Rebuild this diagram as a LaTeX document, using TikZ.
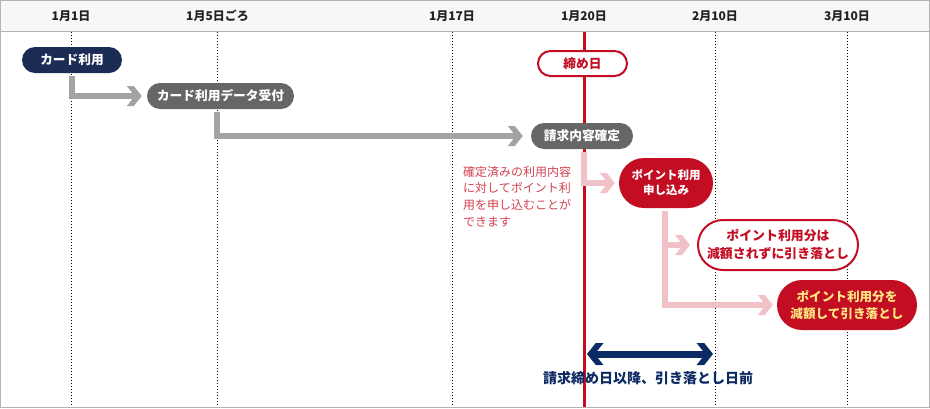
\documentclass[tikz,border=0pt]{standalone}
\usepackage{fontspec}
\setmainfont{Noto Sans CJK JP}
\definecolor{navyn}{HTML}{1B2C55}
\definecolor{grayn}{HTML}{666666}
\definecolor{grayarrow}{HTML}{A3A3A3}
\definecolor{redc}{HTML}{C30D23}
\definecolor{pinkc}{HTML}{F0C2C8}
\definecolor{notec}{HTML}{D2414F}
\definecolor{yellowt}{HTML}{FFE680}
\definecolor{navya}{HTML}{0C2A63}
\definecolor{framec}{HTML}{B4B4B4}
\definecolor{headc}{HTML}{F7F7F7}
\definecolor{textc}{HTML}{222222}
\tikzset{
  pill/.style={rounded corners=#1, inner sep=0pt, align=center, font=\bfseries\fontsize{12.7}{15}\selectfont},
  filledpill/.style 2 args={pill=#1, fill=#2, text=white},
  datelabel/.style={font=\bfseries\fontsize{12}{14}\selectfont, text=textc, inner sep=0pt},
  vguide/.style={line width=1pt, dash pattern=on 1pt off 2pt, black},
  garrow/.style={line width=6pt, grayarrow},
  parrow/.style={line width=6pt, pinkc},
  chev/.pic={\fill (0,0) -- (-8,-10) -- (-15,-10) -- (-7,0) -- (-15,10) -- (-8,10) -- cycle;}
}
\begin{document}
\begin{tikzpicture}[x=1pt,y=-1pt]
\useasboundingbox (0,0) rectangle (930,408);
% header
\fill[headc] (0,0) rectangle (930,31);
\draw[framec, line width=1pt] (0,31.5) -- (930,31.5);
% guides
\foreach \gx in {71.5,217.5,452.5,715.5,847.5} \draw[vguide] (\gx,32) -- (\gx,408);
\draw[redc, line width=3pt] (584.5,32) -- (584.5,408);
% date labels
\node[datelabel] (d1) at (71,16) {1月1日};
\node[datelabel] (d2) at (217.5,16) {1月5日ごろ};
\node[datelabel] (d3) at (452,16) {1月17日};
\node[datelabel] (d4) at (584,16) {1月20日};
\node[datelabel] (d5) at (715,16) {2月10日};
\node[datelabel] (d6) at (847,16) {3月10日};
% frame
\draw[framec, line width=1pt] (0.5,0.5) rectangle (929.5,407.5);
% nodes
\node[filledpill={13pt}{navyn}, minimum width=100pt, minimum height=26pt] (card) at (72,60) {カード利用};
\node[filledpill={13pt}{grayn}, minimum width=147pt, minimum height=26pt] (recv) at (220.5,96) {カード利用データ受付};
\node[filledpill={13pt}{grayn}, minimum width=102pt, minimum height=26pt] (kakutei) at (582,136) {請求内容確定};
\node[pill={12.5pt}, draw=redc, line width=2pt, fill=white, text=redc, minimum width=89pt, minimum height=25pt] (shime) at (582.5,63.5) {締め日};
\node[filledpill={25pt}{redc}, minimum width=94pt, minimum height=50pt, font=\bfseries\fontsize{11.5}{15}\selectfont] (moushi) at (666,183) {ポイント利用\\申し込み};
\node[pill={25pt}, draw=redc, line width=2pt, fill=white, text=redc, minimum width=160pt, minimum height=50pt, font=\bfseries\fontsize{12.9}{18}\selectfont] (notcut) at (778,245) {ポイント利用分は\\減額されずに引き落とし};
\node[filledpill={25pt}{redc}, text=yellowt, minimum width=140pt, minimum height=50pt, font=\bfseries\fontsize{12.6}{17}\selectfont] (cut) at (847,305) {ポイント利用分を\\減額して引き落とし};
% note
\node[anchor=north west, inner sep=0pt, align=left, text=notec, font=\fontsize{12}{16.7}\selectfont] (note) at (463,166) {確定済みの利用内容\\に対してポイント利\\用を申し込むことが\\できます};
% gray connectors
\draw[garrow] ([yshift=-3pt]card.south) |- ([xshift=-12pt]recv.west);
\pic[color=grayarrow] at ([xshift=-5pt]recv.west) {chev};
\draw[garrow] ([xshift=-3.5pt,yshift=-3pt]recv.south) |- ([xshift=-15pt]kakutei.west);
\pic[color=grayarrow] at ([xshift=-8pt]kakutei.west) {chev};
% pink connectors
\draw[parrow] ([xshift=2pt,yshift=-3pt]kakutei.south) |- ([xshift=-11pt]moushi.west);
\pic[color=pinkc] at ([xshift=-4pt]moushi.west) {chev};
\draw[parrow] ([xshift=-1pt,yshift=-3pt]moushi.south) |- ([xshift=-11pt]cut.west);
\pic[color=pinkc] at ([xshift=-4pt]cut.west) {chev};
\draw[parrow] ([xshift=-1pt]moushi.south |- notcut.west) -- ([xshift=-14pt]notcut.west);
\pic[color=pinkc] at ([xshift=-7pt]notcut.west) {chev};
% period arrow
\coordinate (pl) at (587,354);
\coordinate (pr) at (713,354);
\draw[navya, line width=7pt] ([xshift=8pt]pl) -- ([xshift=-8pt]pr);
\pic[color=navya, scale=1.1] at (pr) {chev};
\pic[color=navya, scale=1.1, rotate=180] at (pl) {chev};
\node[font=\bfseries\fontsize{14}{16}\selectfont, text=navya, inner sep=0pt] (period) at (648,378) {請求締め日以降、引き落とし日前};
\end{tikzpicture}
\end{document}
